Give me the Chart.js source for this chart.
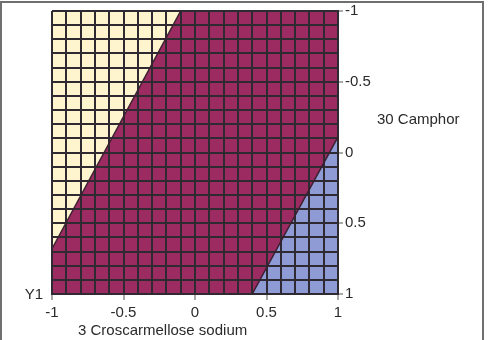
<!DOCTYPE html>
<html>
<head>
<meta charset="utf-8">
<script src="https://cdn.jsdelivr.net/npm/chart.js@4"></script>
<style>
  body { margin: 0; background: #fff; }
  #wrap { position: relative; width: 488px; height: 340px; overflow: hidden; }
  #frame { position: absolute; left: 0; top: 1px; width: 484px; height: 400px; border: 2px solid #6f6f6f; box-sizing: border-box; }
  canvas { position: absolute; left: 0; top: 0; }
</style>
</head>
<body>
<div id="wrap">
  <div id="frame"></div>
  <canvas id="chart" width="488" height="340"></canvas>
</div>
<script>
// axis range and labelled ticks
const xTickLabels = [-1, -0.5, 0, 0.5, 1];
const yTickLabels = [-1, -0.5, 0, 0.5, 1];

// region boundaries (x = Croscarmellose, y = Camphor)
const upperEdgeX = [-1, -0.1];
const upperEdgeY = [0.68, -1];
const lowerEdgeX = [0.4, 1];
const lowerEdgeY = [1, -0.11];
const fullX = [-1, 1];
const fullY = [-1, -1];

const regionColors = ['#fef4cd', '#9b2b60', '#8f9bd4'];
const gridColor = '#2f2a31';
const font = 'Liberation Sans, Arial, sans-serif';

function pts(xs, ys) {
    return xs.map((x, i) => ({ x: x, y: ys[i] }));
}

function isLabelled(v, list) {
    return list.some(t => Math.abs(t - v) < 1e-6);
}

const textLabels = {
    id: 'textLabels',
    afterDraw(chart) {
        const ctx = chart.ctx;
        ctx.save();
        ctx.fillStyle = '#2a2a2a';
        ctx.font = '15px ' + font;
        ctx.textBaseline = 'middle';
        ctx.textAlign = 'right';
        ctx.fillText('Y1', 43, 295);
        ctx.textAlign = 'left';
        ctx.fillText('30 Camphor', 377, 120);
        ctx.fillText('3 Croscarmellose sodium', 78, 331);
        ctx.restore();
    }
};

const ctx = document.getElementById('chart').getContext('2d');

new Chart(ctx, {
    type: 'scatter',
    data: {
        datasets: [
            {
                data: pts(upperEdgeX, upperEdgeY),
                showLine: true,
                fill: 'end',
                backgroundColor: regionColors[0],
                borderColor: '#3a2030',
                borderWidth: 1.5,
                pointRadius: 0
            },
            {
                data: pts(lowerEdgeX, lowerEdgeY),
                showLine: true,
                fill: 'start',
                backgroundColor: regionColors[2],
                borderColor: '#3a2030',
                borderWidth: 1.5,
                pointRadius: 0
            },
            {
                data: pts(fullX, fullY),
                showLine: true,
                fill: 'start',
                backgroundColor: regionColors[1],
                borderWidth: 0,
                pointRadius: 0
            }
        ]
    },
    options: {
        responsive: false,
        animation: false,
        layout: { padding: { left: 52, top: 10, right: 0, bottom: 0 } },
        plugins: {
            legend: { display: false },
            tooltip: { enabled: false },
            filler: { drawTime: 'beforeDraw' }
        },
        scales: {
            x: {
                type: 'linear',
                min: -1,
                max: 1,
                afterFit: s => { s.height = 46; },
                border: { display: true, color: gridColor, width: 2 },
                grid: {
                    color: gridColor,
                    lineWidth: 2,
                    tickLength: 6,
                    tickColor: c => isLabelled(c.tick.value, xTickLabels) ? '#555' : 'transparent',
                    tickWidth: 1
                },
                ticks: {
                    stepSize: 0.1,
                    autoSkip: false,
                    maxRotation: 0,
                    padding: 4,
                    color: '#2a2a2a',
                    font: { family: font, size: 15 },
                    callback: v => isLabelled(v, xTickLabels) ? String(Math.round(v * 2) / 2) : ''
                }
            },
            y: {
                type: 'linear',
                position: 'right',
                reverse: true,
                min: -1,
                max: 1,
                afterFit: s => { s.width = 150; },
                border: { display: true, color: gridColor, width: 2 },
                grid: {
                    color: gridColor,
                    lineWidth: 2,
                    tickLength: 5,
                    tickColor: c => isLabelled(c.tick.value, yTickLabels) ? '#555' : 'transparent',
                    tickWidth: 1
                },
                ticks: {
                    stepSize: 0.1,
                    autoSkip: false,
                    padding: 2,
                    color: '#2a2a2a',
                    font: { family: font, size: 15 },
                    callback: v => isLabelled(v, yTickLabels) ? String(Math.round(v * 2) / 2) : ''
                }
            }
        }
    },
    plugins: [textLabels]
});
</script>
</body>
</html>
